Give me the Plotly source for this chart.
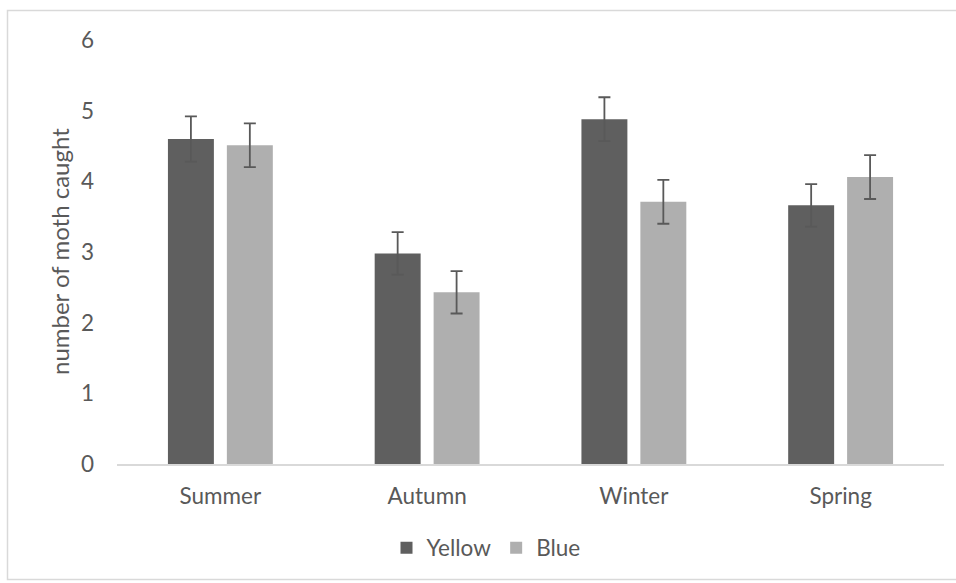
import plotly.graph_objects as go

seasons = ["Summer", "Autumn", "Winter", "Spring"]
yellow_vals = [4.60, 2.98, 4.88, 3.66]
yellow_err = [0.32, 0.30, 0.31, 0.30]
blue_vals = [4.51, 2.43, 3.71, 4.06]
blue_err = [0.31, 0.30, 0.31, 0.31]
y_title = "number of moth caught"

font_family = "Lato, 'Open Sans', sans-serif"
text_color = "#595959"
err_color = "#595959"

fig = go.Figure()
fig.add_trace(go.Bar(
    name="Yellow", x=seasons, y=yellow_vals,
    marker=dict(color="#5f5f5f", line=dict(width=0)),
    error_y=dict(type="data", array=yellow_err, color=err_color, thickness=1.8, width=6),
))
fig.add_trace(go.Bar(
    name="Blue", x=seasons, y=blue_vals,
    marker=dict(color="#afafaf", line=dict(width=0)),
    error_y=dict(type="data", array=blue_err, color=err_color, thickness=1.8, width=6),
))

L, R, T, B = 117, 12, 40, 119
W, H = 956, 583
pw = W - L - R
ph = H - T - B

def px_x(x):
    return (x - L) / pw

def px_y(y):
    return (H - B - y) / ph

fs = 22.5

fig.update_layout(
    width=W, height=H,
    margin=dict(l=L, r=R, t=T, b=B, autoexpand=False),
    paper_bgcolor="white", plot_bgcolor="white",
    barmode="group", bargap=0.43, bargroupgap=0.22,
    font=dict(family=font_family, size=fs, color=text_color),
    showlegend=True,
    legend=dict(orientation="h", x=px_x(486), xanchor="center",
                y=px_y(548), yanchor="middle",
                font=dict(size=fs, color=text_color),
                itemwidth=30, tracegroupgap=0, bgcolor="rgba(0,0,0,0)"),
    xaxis=dict(showline=True, linecolor="#d9d9d9", linewidth=1.5,
               showgrid=False, ticks="", ticklabelstandoff=11,
               tickfont=dict(size=fs, color=text_color), zeroline=False),
    yaxis=dict(range=[0, 6], dtick=1, showgrid=False, showline=False,
               zeroline=False, ticks="", ticklabelstandoff=22,
               tickfont=dict(size=fs, color=text_color)),
    annotations=[dict(text=y_title, textangle=-90, showarrow=False,
                      xref="paper", yref="paper", x=px_x(59), y=0.5,
                      xanchor="center", yanchor="middle",
                      font=dict(size=24, color=text_color))],
    shapes=[dict(type="rect", xref="paper", yref="paper",
                 x0=px_x(7.5), x1=px_x(965), y0=px_y(579.5), y1=px_y(10.5),
                 line=dict(color="#d9d9d9", width=1.5), layer="below")],
)

fig.write_html("out.html", config={"displayModeBar": False},
               post_script="document.body.style.margin='0';document.body.style.overflow='hidden';")
